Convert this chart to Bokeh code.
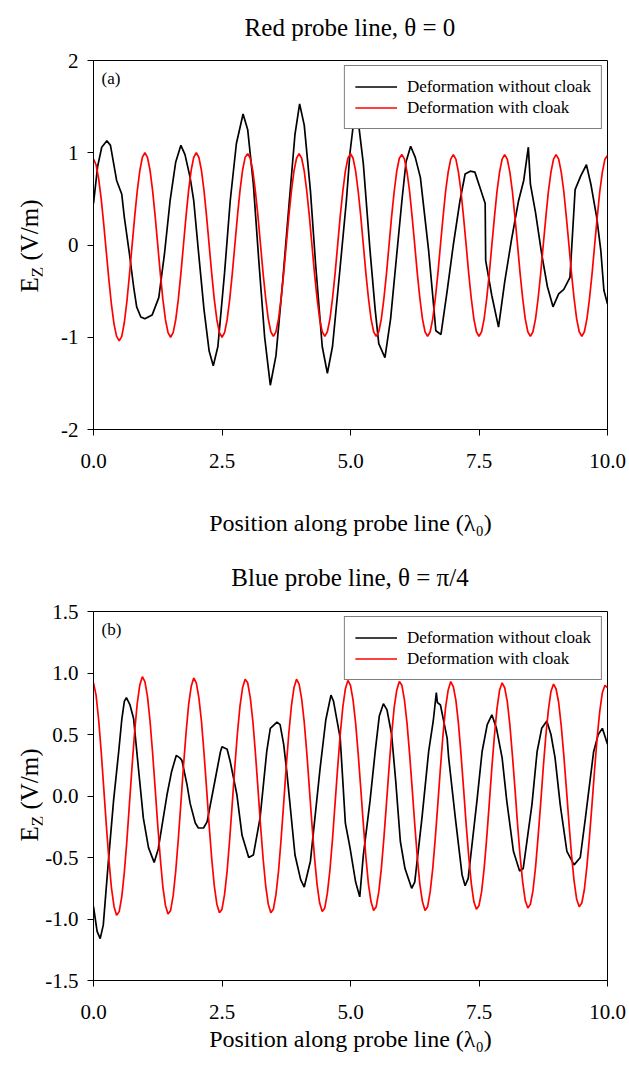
from bokeh.plotting import figure
from bokeh.layouts import column, row
from bokeh.models import Range1d, FixedTicker, NumeralTickFormatter, Label, Legend, LegendItem, Div
from bokeh.embed import file_html
from bokeh.resources import INLINE

FONT = "Liberation Serif"

# ---------------- data ----------------
x_ticks = [0.0, 2.5, 5.0, 7.5, 10.0]
a_y_ticks = [-2, -1, 0, 1, 2]
b_y_ticks = [-1.5, -1.0, -0.5, 0.0, 0.5, 1.0, 1.5]
series_names = ["Deformation without cloak", "Deformation with cloak"]
panel_titles = ["Red probe line, \u03b8 = 0", "Blue probe line, \u03b8 = \u03c0/4"]
panel_tags = ["(a)", "(b)"]

# sample positions of the "with cloak" curves (every 0.05 lambda0)
red_x = [round(0.05 * i, 2) for i in range(201)]

# panel (a), black: deformation without cloak
a_black_x = [0.0, 0.08, 0.16, 0.26, 0.33, 0.45, 0.55, 0.6, 0.7, 0.78, 0.84, 0.92, 1.0, 1.14, 1.27, 1.38,
             1.49, 1.6, 1.7, 1.78, 1.88, 1.95, 2.04, 2.15, 2.25, 2.33, 2.42, 2.55, 2.66, 2.78, 2.91, 3.0,
             3.11, 3.22, 3.33, 3.44, 3.55, 3.68, 3.81, 3.92, 4.01, 4.1, 4.22, 4.32, 4.45, 4.55, 4.65, 4.78,
             4.92, 4.99, 5.08, 5.16, 5.25, 5.38, 5.48, 5.55, 5.67, 5.78, 5.9, 6.0, 6.08, 6.17, 6.26, 6.36,
             6.52, 6.6, 6.66, 6.76, 6.88, 7.0, 7.13, 7.23, 7.33, 7.42, 7.52, 7.62, 7.63, 7.75, 7.88, 8.0,
             8.13, 8.27, 8.37, 8.46, 8.5, 8.6, 8.72, 8.83, 8.94, 9.05, 9.15, 9.27, 9.35, 9.37, 9.48, 9.59,
             9.68, 9.79, 9.87, 9.93, 10.0]
a_black_y = [0.45, 0.85, 1.06, 1.13, 1.08, 0.7, 0.55, 0.3, -0.1, -0.45, -0.67, -0.78, -0.8, -0.76, -0.57, -0.1,
             0.48, 0.9, 1.08, 0.98, 0.73, 0.48, -0.06, -0.7, -1.15, -1.31, -1.1, -0.3, 0.48, 1.1, 1.42, 1.25,
             0.66, -0.2, -1.0, -1.52, -1.2, -0.4, 0.48, 1.2, 1.53, 1.3, 0.59, -0.2, -1.1, -1.39, -1.1, -0.35,
             0.48, 1.0, 1.42, 1.3, 0.88, -0.06, -0.7, -1.07, -1.22, -0.8, -0.1, 0.48, 0.9, 1.07, 0.95, 0.73,
             -0.06, -0.55, -0.93, -0.97, -0.5, 0.0, 0.48, 0.77, 0.8, 0.79, 0.62, 0.45, -0.17, -0.55, -0.89, -0.4,
             0.05, 0.48, 0.7, 1.06, 0.66, 0.35, -0.1, -0.45, -0.67, -0.53, -0.48, -0.35, 0.41, 0.6, 0.75, 0.87,
             0.65, 0.3, -0.06, -0.49, -0.64]

# panel (a), red: deformation with cloak
a_red_y = [0.93, 0.87, 0.72, 0.50, 0.22, -0.08, -0.38, -0.65, -0.86, -0.99, -1.04, -0.99, -0.84, -0.61, -0.32, -0.01, 0.30, 0.58, 0.80, 0.95,
           1.0, 0.95, 0.81, 0.59, 0.31, 0.0, -0.31, -0.59, -0.81, -0.95, -1.0, -0.95, -0.81, -0.59, -0.31, 0.0, 0.31, 0.59, 0.81, 0.95,
           1.0, 0.95, 0.81, 0.59, 0.31, 0.0, -0.31, -0.59, -0.81, -0.95, -1.0, -0.95, -0.81, -0.59, -0.31, 0.0, 0.31, 0.59, 0.81, 0.95,
           0.99, 0.94, 0.80, 0.58, 0.31, 0.0, -0.31, -0.58, -0.80, -0.94, -0.99, -0.94, -0.80, -0.58, -0.31, 0.0, 0.31, 0.58, 0.80, 0.94,
           0.99, 0.94, 0.80, 0.58, 0.31, 0.0, -0.31, -0.58, -0.80, -0.94, -0.99, -0.94, -0.80, -0.58, -0.31, 0.0, 0.31, 0.58, 0.80, 0.94,
           0.99, 0.94, 0.80, 0.58, 0.31, 0.0, -0.31, -0.58, -0.80, -0.94, -0.99, -0.94, -0.80, -0.58, -0.31, 0.0, 0.31, 0.58, 0.80, 0.94,
           0.98, 0.93, 0.79, 0.58, 0.30, 0.0, -0.31, -0.58, -0.80, -0.94, -0.99, -0.94, -0.80, -0.58, -0.31, 0.0, 0.30, 0.58, 0.79, 0.93,
           0.98, 0.93, 0.79, 0.58, 0.30, 0.0, -0.31, -0.58, -0.80, -0.94, -0.99, -0.94, -0.80, -0.58, -0.31, 0.0, 0.30, 0.58, 0.79, 0.93,
           0.98, 0.93, 0.79, 0.58, 0.30, 0.0, -0.31, -0.58, -0.80, -0.94, -0.99, -0.94, -0.80, -0.58, -0.31, 0.0, 0.30, 0.58, 0.79, 0.93,
           0.98, 0.93, 0.79, 0.58, 0.30, 0.0, -0.31, -0.58, -0.80, -0.94, -0.99, -0.94, -0.80, -0.58, -0.31, 0.0, 0.30, 0.58, 0.79, 0.93,
           0.97]

# panel (b), black: deformation without cloak
b_black_x = [0.0, 0.07, 0.13, 0.19, 0.29, 0.39, 0.49, 0.55, 0.6, 0.64, 0.71, 0.78, 0.88, 0.97, 1.07, 1.18,
             1.26, 1.43, 1.52, 1.61, 1.68, 1.72, 1.82, 1.88, 1.98, 2.04, 2.14, 2.21, 2.37, 2.47, 2.5, 2.6,
             2.66, 2.79, 2.89, 3.02, 3.11, 3.24, 3.37, 3.44, 3.57, 3.63, 3.7, 3.76, 3.92, 4.03, 4.1, 4.22,
             4.41, 4.52, 4.62, 4.67, 4.8, 4.9, 4.99, 5.1, 5.18, 5.25, 5.38, 5.48, 5.56, 5.64, 5.71, 5.8,
             5.88, 5.97, 6.06, 6.19, 6.25, 6.39, 6.52, 6.61, 6.67, 6.69, 6.75, 6.88, 6.91, 7.04, 7.17, 7.23,
             7.29, 7.46, 7.56, 7.66, 7.75, 7.84, 7.95, 8.04, 8.17, 8.29, 8.36, 8.53, 8.63, 8.72, 8.82, 8.9,
             8.98, 9.08, 9.21, 9.35, 9.47, 9.57, 9.73, 9.82, 9.9, 10.0]
b_black_y = [-0.9, -1.1, -1.16, -1.05, -0.53, -0.04, 0.36, 0.62, 0.77, 0.8, 0.74, 0.63, 0.2, -0.18, -0.42, -0.54,
             -0.43, 0.01, 0.2, 0.33, 0.31, 0.29, 0.09, -0.06, -0.22, -0.26, -0.26, -0.21, 0.14, 0.36, 0.4, 0.38,
             0.28, 0.01, -0.32, -0.5, -0.48, -0.18, 0.36, 0.55, 0.6, 0.58, 0.42, 0.2, -0.48, -0.68, -0.74, -0.53,
             0.23, 0.62, 0.82, 0.77, 0.47, -0.22, -0.42, -0.7, -0.82, -0.48, -0.04, 0.36, 0.65, 0.75, 0.7, 0.5,
             0.12, -0.37, -0.59, -0.75, -0.7, -0.18, 0.36, 0.61, 0.84, 0.76, 0.74, 0.47, 0.31, -0.18, -0.64, -0.73,
             -0.67, -0.04, 0.36, 0.58, 0.66, 0.55, 0.31, -0.04, -0.45, -0.61, -0.59, -0.07, 0.36, 0.55, 0.61, 0.5,
             0.31, -0.07, -0.45, -0.56, -0.5, -0.18, 0.36, 0.5, 0.55, 0.42]

# panel (b), red: deformation with cloak
b_red_y = [0.92, 0.82, 0.62, 0.36, 0.06, -0.24, -0.52, -0.75, -0.90, -0.97, -0.94, -0.82, -0.62, -0.36, -0.06, 0.24, 0.52, 0.75, 0.90, 0.97,
           0.93, 0.81, 0.61, 0.35, 0.06, -0.24, -0.51, -0.74, -0.89, -0.96, -0.93, -0.81, -0.61, -0.35, -0.06, 0.24, 0.51, 0.74, 0.89, 0.96,
           0.92, 0.80, 0.61, 0.35, 0.06, -0.24, -0.51, -0.73, -0.88, -0.95, -0.92, -0.80, -0.61, -0.35, -0.06, 0.24, 0.51, 0.73, 0.88, 0.95,
           0.92, 0.80, 0.61, 0.35, 0.06, -0.24, -0.51, -0.73, -0.88, -0.95, -0.92, -0.80, -0.61, -0.35, -0.06, 0.24, 0.51, 0.73, 0.88, 0.95,
           0.91, 0.79, 0.60, 0.35, 0.06, -0.23, -0.50, -0.72, -0.87, -0.94, -0.91, -0.79, -0.60, -0.35, -0.06, 0.23, 0.50, 0.72, 0.87, 0.94,
           0.90, 0.78, 0.59, 0.34, 0.06, -0.23, -0.50, -0.72, -0.86, -0.93, -0.90, -0.78, -0.59, -0.34, -0.06, 0.23, 0.50, 0.72, 0.86, 0.93,
           0.90, 0.78, 0.59, 0.34, 0.06, -0.23, -0.50, -0.72, -0.86, -0.93, -0.90, -0.78, -0.59, -0.34, -0.06, 0.23, 0.50, 0.72, 0.86, 0.93,
           0.89, 0.78, 0.59, 0.34, 0.06, -0.23, -0.49, -0.71, -0.86, -0.92, -0.89, -0.78, -0.59, -0.34, -0.06, 0.23, 0.49, 0.71, 0.86, 0.92,
           0.88, 0.77, 0.58, 0.33, 0.06, -0.23, -0.49, -0.70, -0.85, -0.91, -0.88, -0.77, -0.58, -0.33, -0.06, 0.23, 0.49, 0.70, 0.85, 0.91,
           0.87, 0.76, 0.57, 0.33, 0.06, -0.22, -0.48, -0.69, -0.84, -0.90, -0.87, -0.76, -0.57, -0.33, -0.06, 0.22, 0.48, 0.69, 0.84, 0.90,
           0.88]

DIV_W = 42
TOTAL_W = 628
FRAME_LEFT = 93
FRAME_RIGHT = 607
FRAME_CX = (FRAME_LEFT + FRAME_RIGHT) // 2


def title_div(text, height, center_y):
    html = (
        f'<div style="position:relative;width:{TOTAL_W}px;height:{height}px;">'
        f'<div style="position:absolute;left:{FRAME_CX}px;top:{center_y}px;'
        'transform:translate(-50%,-50%);white-space:nowrap;'
        "font-family:'Liberation Serif';font-size:25px;line-height:1;color:#000;\">"
        f'{text}</div></div>'
    )
    return Div(text=html, width=TOTAL_W, height=height, margin=0)


def y_title_div(height, center_y):
    html = (
        f'<div style="position:relative;width:{DIV_W}px;height:{height}px;overflow:visible;">'
        f'<div style="position:absolute;left:29px;top:{center_y}px;'
        'transform:translate(-50%,-50%) rotate(-90deg);white-space:nowrap;'
        "font-family:'Liberation Serif';font-size:25px;line-height:1;color:#000;\">"
        'E<span style="font-size:17px;position:relative;top:5px;">Z</span> (V/m)'
        '</div></div>'
    )
    return Div(text=html, width=DIV_W, height=height, margin=0)


def make_panel(tag, y_lo, y_hi, y_ticks, y_fmt, black_x, black_y, red_y,
               height, border_top, border_bottom, label_standoff):
    p = figure(title=None, width=TOTAL_W - DIV_W, height=height, output_backend="svg",
               toolbar_location=None,
               x_range=Range1d(0, 10), y_range=Range1d(y_lo, y_hi),
               min_border_left=FRAME_LEFT - DIV_W, min_border_right=TOTAL_W - FRAME_RIGHT,
               min_border_top=border_top, min_border_bottom=border_bottom)
    p.background_fill_color = "white"
    p.border_fill_color = "white"
    p.outline_line_color = "black"
    p.outline_line_width = 1
    p.xgrid.visible = False
    p.ygrid.visible = False

    for ax in (p.xaxis[0], p.yaxis[0]):
        ax.axis_line_color = "black"
        ax.major_tick_line_color = "black"
        ax.major_tick_out = 6
        ax.major_tick_in = 0
        ax.minor_tick_line_color = None
        ax.major_label_text_font = FONT
        ax.major_label_text_font_size = "21px"
        ax.major_label_text_color = "black"

    p.xaxis.ticker = FixedTicker(ticks=x_ticks)
    p.xaxis.formatter = NumeralTickFormatter(format="0.0")
    p.xaxis.major_label_standoff = 18
    p.xaxis.axis_label = "Position along probe line (\u03bb\u2080)"
    p.xaxis.axis_label_text_font = FONT
    p.xaxis.axis_label_text_font_size = "24px"
    p.xaxis.axis_label_text_font_style = "normal"
    p.xaxis.axis_label_text_color = "black"
    p.xaxis.axis_label_standoff = label_standoff

    p.yaxis.ticker = FixedTicker(ticks=y_ticks)
    p.yaxis.formatter = NumeralTickFormatter(format=y_fmt)
    p.yaxis.major_label_standoff = 9

    r_black = p.line(black_x, black_y, line_color="black", line_width=1.7)
    r_red = p.line(red_x, red_y, line_color="#ff0000", line_width=1.7)

    legend = Legend(items=[LegendItem(label=series_names[0], renderers=[r_black]),
                           LegendItem(label=series_names[1], renderers=[r_red])],
                    location="top_right", margin=5, padding=10, spacing=0,
                    glyph_width=42, glyph_height=21, label_height=21, label_standoff=10,
                    label_text_font=FONT, label_text_font_size="17px",
                    label_text_color="black",
                    border_line_color="black", border_line_width=1,
                    background_fill_color="white", background_fill_alpha=1)
    p.add_layout(legend)

    p.add_layout(Label(x=8, y=361, x_units="screen", y_units="screen", text=tag,
                       text_font=FONT, text_font_size="17px", text_baseline="top",
                       text_align="left", text_color="black"))
    return p


# top panel: title strip 40 px, figure 501 px (frame 60..429)
p1 = make_panel(panel_tags[0], -2, 2, a_y_ticks, "0",
                a_black_x, a_black_y, a_red_y,
                height=501, border_top=20, border_bottom=112, label_standoff=39)
# bottom panel: title strip 50 px, figure 469 px (frame 611..980)
p2 = make_panel(panel_tags[1], -1.5, 1.5, b_y_ticks, "0.0",
                b_black_x, b_black_y, b_red_y,
                height=469, border_top=20, border_bottom=80, label_standoff=4)

layout = column(title_div(panel_titles[0], 40, 27),
                row(y_title_div(501, 206), p1, spacing=0),
                title_div(panel_titles[1], 50, 36),
                row(y_title_div(469, 204), p2, spacing=0), spacing=0)
open("out.html", "w").write(file_html(layout, INLINE))
